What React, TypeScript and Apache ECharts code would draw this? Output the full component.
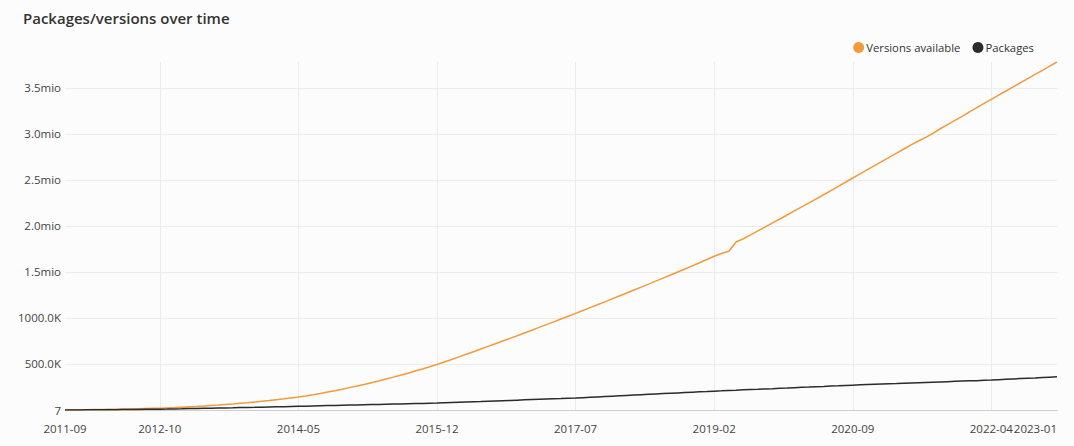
import React, { useEffect, useRef } from "react";
import * as echarts from "echarts";

// Monthly categories from 2011-09 to 2023-01
const months: string[] = (() => {
  const out: string[] = [];
  let y = 2011;
  let m = 9;
  while (y < 2023 || (y === 2023 && m <= 1)) {
    out.push(`${y}-${String(m).padStart(2, "0")}`);
    m++;
    if (m > 12) {
      m = 1;
      y++;
    }
  }
  return out;
})();

const tickLabels = ["2011-09", "2012-10", "2014-05", "2015-12", "2017-07", "2019-02", "2020-09", "2022-04", "2023-01"];

// Versions available (thousands), one value per month
const versionsK = [
  1, 2, 3, 4, 5, 6, 8, 9, 11, 12, 14, 16, 18, 20,
  23, 26, 30, 34, 38, 43, 48, 53, 59, 65, 72, 79, 87, 95, 103, 112, 121, 131, 141,
  153, 166, 180, 195, 210, 226, 243, 260, 278, 297, 316, 336, 357, 378, 400, 423, 446, 470, 495,
  522, 549, 577, 605, 633, 662, 691, 720, 749, 778, 807, 837, 867, 897, 927, 957, 988, 1019, 1050,
  1081, 1112, 1143, 1175, 1207, 1239, 1271, 1303, 1335, 1367, 1400, 1433, 1466, 1499, 1532, 1566, 1600, 1635, 1670,
  1700, 1725, 1825, 1860,
  1903, 1946, 1989, 2032, 2075, 2118, 2162, 2206, 2250, 2294, 2338, 2383, 2428, 2474, 2520,
  2565, 2610, 2655, 2700, 2745, 2790, 2835, 2880, 2922, 2962, 3005, 3055, 3100, 3145, 3190, 3238, 3285, 3330, 3375,
  3420, 3465, 3510, 3555, 3600, 3645, 3690, 3735, 3780,
];

// Packages (thousands), one value per month
const packagesK = [
  0, 1, 1, 2, 2, 3, 3, 4, 5, 5, 6, 7, 8, 9,
  10, 12, 13, 15, 16, 18, 19, 21, 23, 24, 26, 28, 29, 31, 33, 35, 36, 38, 40,
  42, 44, 46, 48, 49, 51, 53, 55, 57, 59, 60, 62, 64, 66, 68, 70, 71, 73, 75,
  78, 81, 84, 87, 90, 92, 95, 98, 101, 104, 107, 110, 113, 116, 119, 122, 124, 127, 130,
  134, 138, 142, 146, 150, 154, 158, 162, 166, 170, 174, 178, 182, 186, 190, 194, 198, 201, 205,
  208, 212, 215, 219, 222, 225, 229, 232, 236, 239, 243, 246, 249, 253, 256, 260, 263, 267, 270,
  273, 276, 279, 282, 285, 287, 290, 293, 296, 299, 302, 305, 308, 311, 314, 317, 319, 322, 325,
  329, 333, 337, 341, 345, 348, 352, 356, 360,
];

const FONT = "'Open Sans', 'Noto Sans', sans-serif";

function fmtY(v: number): string {
  if (v === 0) return "7";
  if (v % 500000 !== 0) return "";
  if (v > 1000000) return (v / 1000000).toFixed(1) + "mio";
  return (v / 1000).toFixed(1) + "K";
}

export default function App() {
  const ref = useRef<HTMLDivElement>(null);
  useEffect(() => {
    document.body.style.margin = "0";
    if (!ref.current) return;
    const chart = echarts.init(ref.current, undefined, { renderer: "svg" });
    const labelSet = new Set(tickLabels);
    const last = months.length - 1;
    chart.setOption({
      animation: false,
      backgroundColor: "#fcfcfc",
      textStyle: { fontFamily: FONT },
      title: {
        text: "Packages/versions over time",
        left: 18,
        top: 5,
        textStyle: { fontFamily: FONT, fontSize: 15, fontWeight: 600, color: "#333" },
      },
      legend: {
        right: 35,
        top: 37,
        icon: "circle",
        itemWidth: 11,
        itemHeight: 11,
        itemGap: 12,
        textStyle: { fontFamily: FONT, fontSize: 11.3, color: "#333", padding: [0, 0, 0, -3] },
        data: ["Versions available", "Packages"],
      },
      grid: { left: 65, right: 17, top: 62, bottom: 36, containLabel: false },
      xAxis: {
        type: "category",
        boundaryGap: false,
        data: months,
        axisLine: { show: true, lineStyle: { color: "#cfcfcf" } },
        axisTick: { show: false },
        axisLabel: {
          interval: (i: number, v: string) => labelSet.has(v),
          margin: 12,
          fontFamily: FONT,
          fontSize: 11.5,
          color: "#444",
          alignMaxLabel: "right",
          showMaxLabel: true,
        },
        splitLine: {
          show: true,
          interval: (i: number, v: string) => labelSet.has(v) && i !== 0 && i !== last,
          lineStyle: { color: "#ececec", width: 1 },
        },
      },
      yAxis: {
        type: "value",
        min: 0,
        max: "dataMax",
        interval: 500000,
        axisLine: { show: false },
        axisTick: { show: false },
        axisLabel: {
          formatter: fmtY,
          margin: 4,
          fontFamily: FONT,
          fontSize: 11.5,
          color: "#444",
          showMaxLabel: false,
        },
        splitLine: {
          show: true,
          showMaxLine: false,
          lineStyle: { color: "#ececec", width: 1 },
        },
      },
      series: [
        {
          name: "Versions available",
          type: "line",
          data: versionsK.map((v) => v * 1000),
          showSymbol: false,
          symbol: "circle",
          lineStyle: { width: 1.5, color: "#F39A3B" },
          itemStyle: { color: "#F39A3B" },
          z: 3,
        },
        {
          name: "Packages",
          type: "line",
          data: packagesK.map((v) => v * 1000),
          showSymbol: false,
          symbol: "circle",
          lineStyle: { width: 1.5, color: "#2B2B2E" },
          itemStyle: { color: "#2B2B2E" },
          z: 4,
        },
      ],
    });
    return () => chart.dispose();
  }, []);
  return <div ref={ref} style={{ width: 1074, height: 446 }} />;
}
